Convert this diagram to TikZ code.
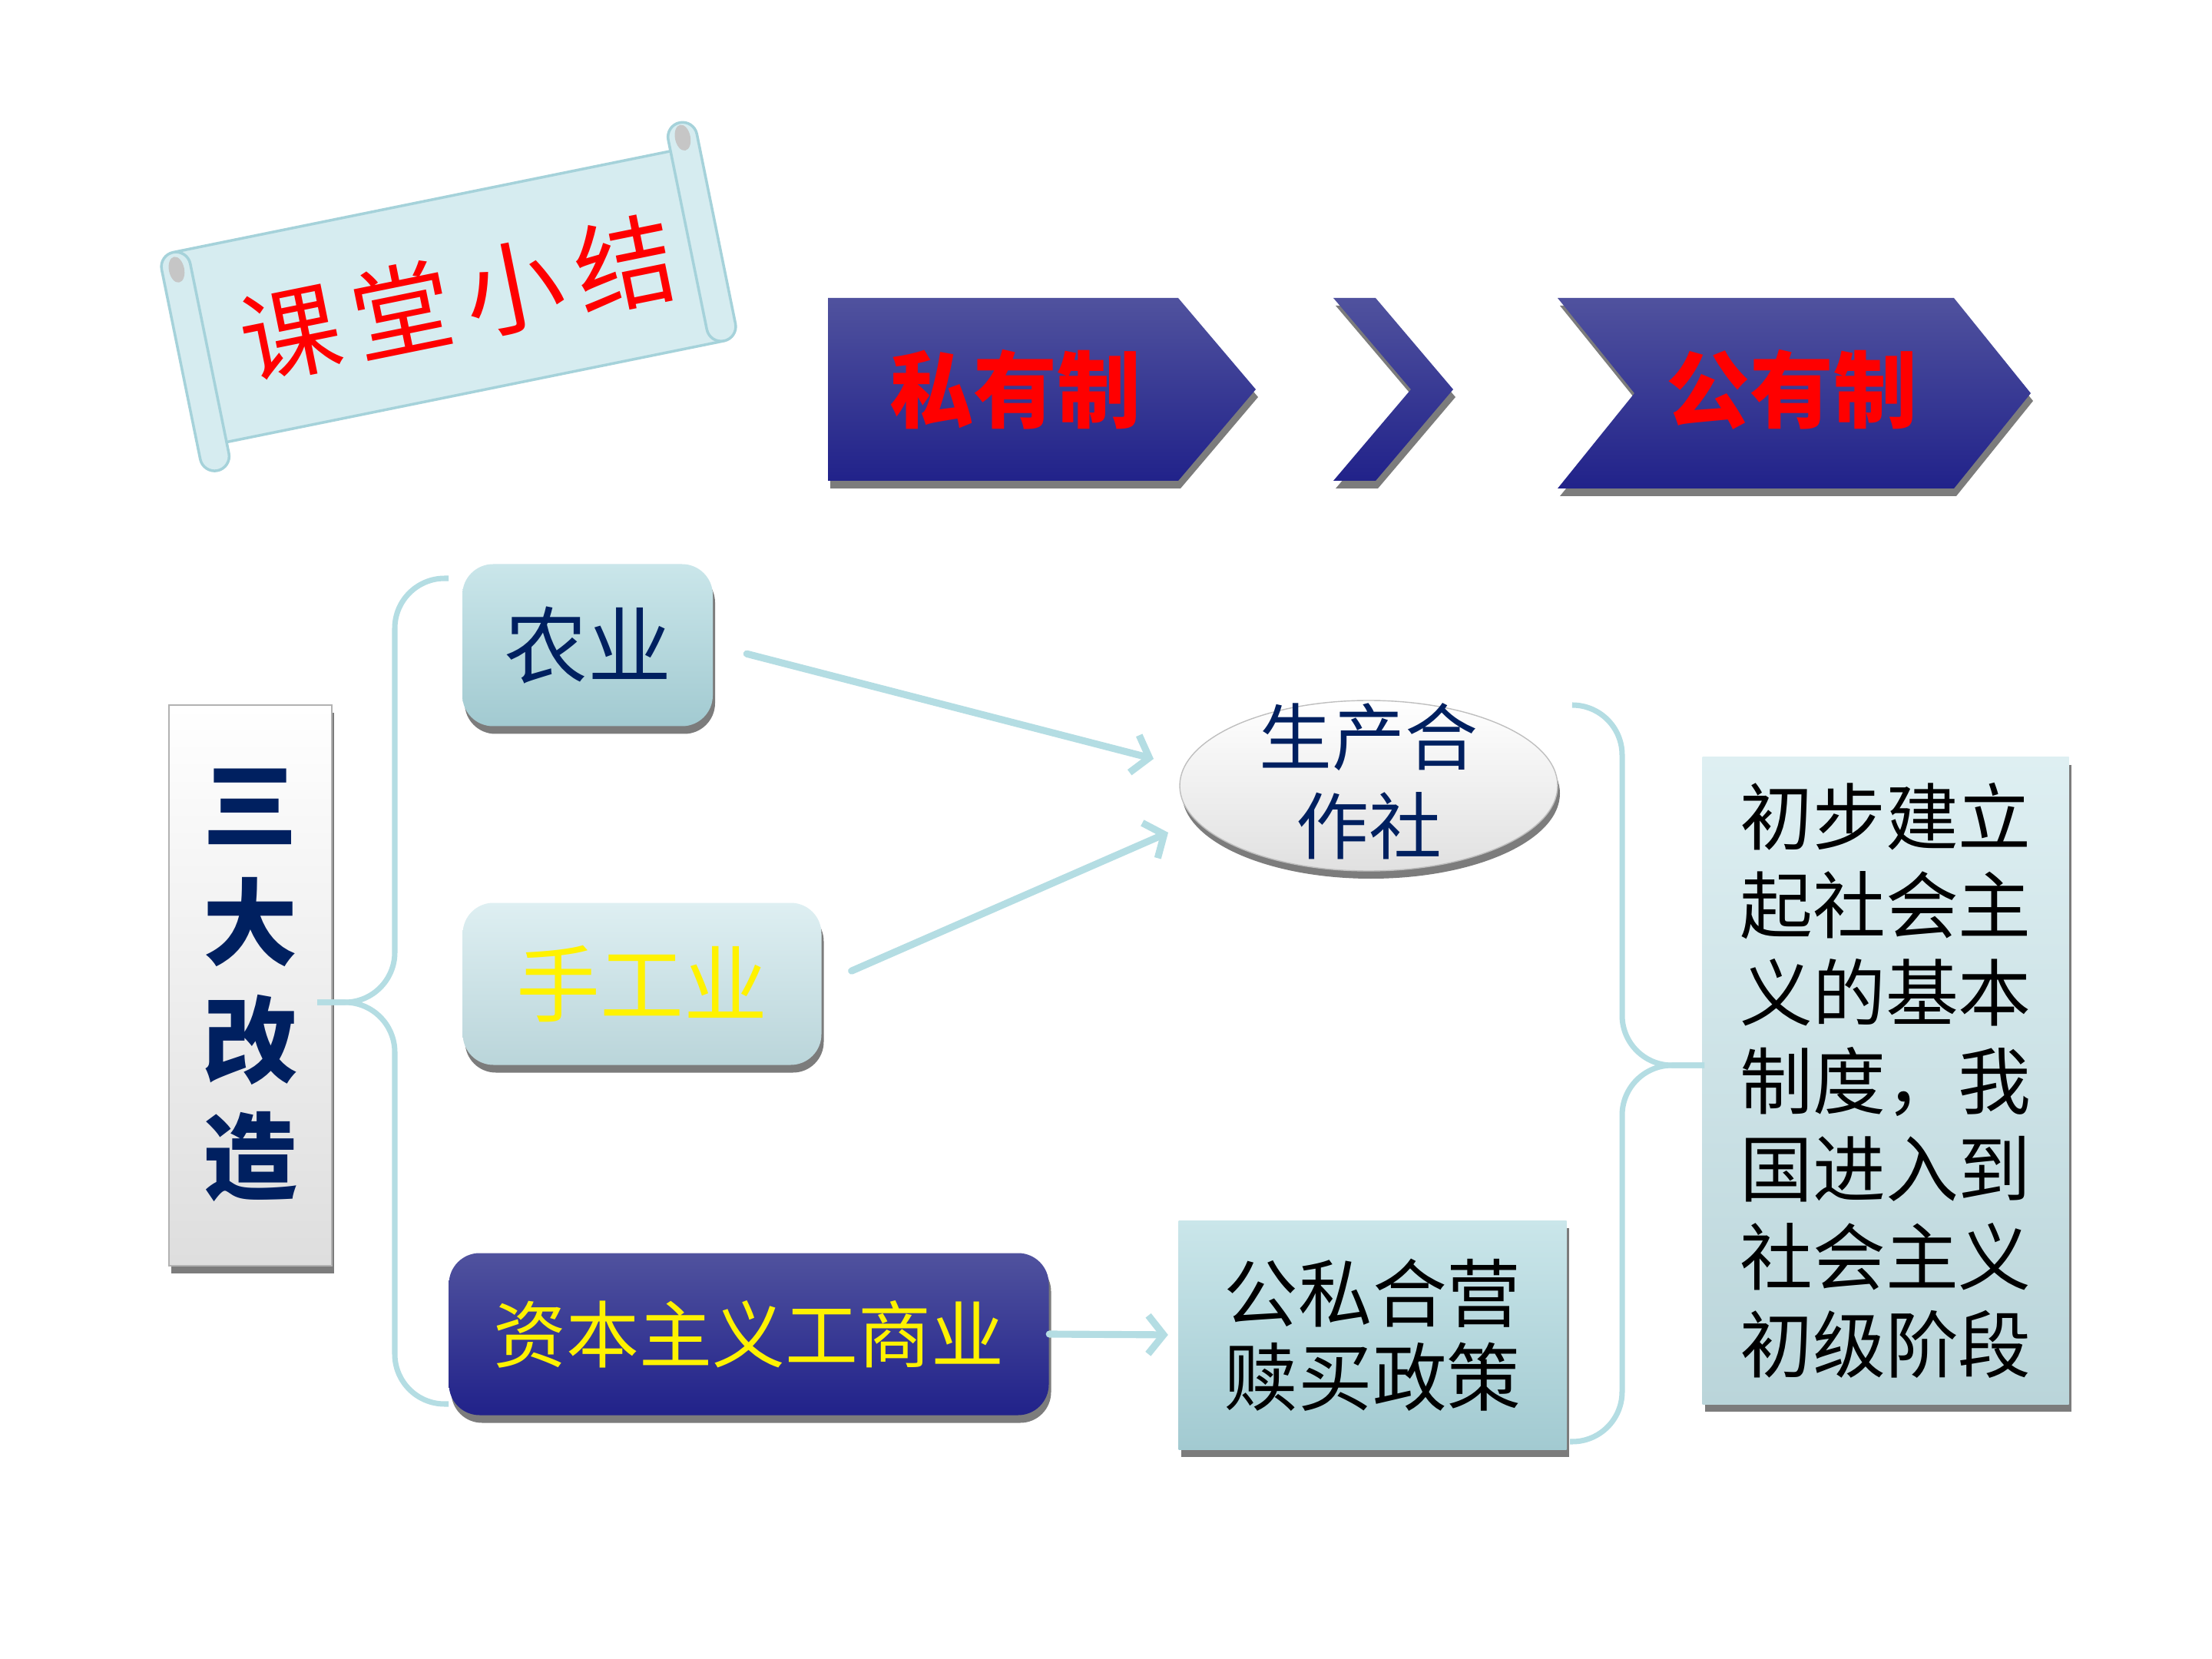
\documentclass[tikz,border=0pt]{standalone}
\usepackage{xcolor}
\usepackage{fontspec}
\setmainfont{Noto Sans CJK SC}
\usepackage{tikz}
\usetikzlibrary{shapes.geometric, arrows.meta, shadows}
\definecolor{navytop}{RGB}{80, 82, 158}
\definecolor{navybot}{RGB}{33, 34, 138}
\definecolor{inkblue}{RGB}{0, 32, 96}
\definecolor{aqualine}{RGB}{180, 221, 227}
\definecolor{aquatop}{RGB}{202, 230, 234}
\definecolor{aquabot}{RGB}{162, 202, 209}
\definecolor{paletop}{RGB}{222, 239, 242}
\definecolor{palebot}{RGB}{186, 213, 218}
\definecolor{scrollfill}{RGB}{214, 236, 240}
\definecolor{scrollline}{RGB}{165, 210, 218}

\begin{document}
\begin{tikzpicture}[
    shade drop/.style={drop shadow={shadow xshift=0.03cm, shadow yshift=-0.1cm, opacity=0.6, fill=black!85}},
    card/.style={rounded corners=0.4cm, minimum height=2.11cm, inner sep=0pt, shade drop},
    flow/.style={aqualine, line width=2.6pt, line cap=round, -{Straight Barb[length=0.2cm, width=0.5cm]}},
    brace/.style={aqualine, line width=2pt, rounded corners=0.65cm}
]
    % Canvas
    \useasboundingbox (0,0) rectangle (28.8,-21.6);
    \fill[white] (0,0) rectangle (28.8,-21.6);

    % Scroll with title
    \begin{scope}[shift={(5.85,-3.86)}, rotate=11.5]
        \filldraw[fill=scrollfill, draw=scrollline, line width=1pt, rounded corners=0.2cm] (-3.57,-1.28) rectangle (3.55,1.28);
        \filldraw[fill=scrollfill, draw=scrollline, line width=1pt, rounded corners=0.19cm] (-3.6,-1.62) rectangle (-3.22,1.28);
        \filldraw[fill=scrollfill, draw=scrollline, line width=1pt, rounded corners=0.19cm] (3.2,-1.28) rectangle (3.58,1.62);
        \fill[gray!45] (-3.41,1.05) ellipse (0.1 and 0.17);
        \fill[gray!45] (3.39,1.42) ellipse (0.1 and 0.17);
        \node[transform shape, text=red, font=\fontsize{37pt}{37pt}\selectfont] (title) at (0.1,-0.05)
            {课\hspace{0.14em}堂\hspace{0.14em}小\hspace{0.14em}结};
    \end{scope}

    % Chevrons
    \path[shade drop, top color=navytop, bottom color=navybot]
        (10.78,-3.88) -- (15.34,-3.88) -- (16.35,-5.07) -- (15.34,-6.26) -- (10.78,-6.26) -- cycle;
    \path[shade drop, top color=navytop, bottom color=navybot]
        (17.36,-3.88) -- (17.91,-3.88) -- (18.92,-5.07) -- (17.91,-6.26) -- (17.36,-6.26) -- (18.37,-5.07) -- cycle;
    \path[shade drop, top color=navytop, bottom color=navybot]
        (20.28,-3.88) -- (25.44,-3.88) -- (26.44,-5.12) -- (25.44,-6.36) -- (20.28,-6.36) -- (21.28,-5.12) -- cycle;
    \node[text=red, font=\bfseries\fontsize{31pt}{31pt}\selectfont] (private) at (13.22,-5.07) {私有制};
    \node[text=red, font=\bfseries\fontsize{31pt}{31pt}\selectfont] (public) at (23.33,-5.07) {公有制};

    % Left column
    \node[shade drop, draw=black!30, top color=white, bottom color=black!13, minimum width=2.12cm, minimum height=7.3cm,
        inner sep=0pt, text=inkblue, align=center, font=\bfseries\fontsize{35pt}{43.5pt}\selectfont]
        (gaizao) at (3.26,-12.83) {三\\大\\改\\造};

    % Three sectors
    \node[card, top color=aquatop, bottom color=aquabot, minimum width=3.26cm, text=inkblue,
        font=\fontsize{31pt}{31pt}\selectfont] (nongye) at (7.65,-8.40) {农业};
    \node[card, top color=paletop, bottom color=palebot, minimum width=4.67cm, text=yellow,
        font=\fontsize{31pt}{31pt}\selectfont] (shougong) at (8.36,-12.81) {手工业};
    \node[card, top color=navytop, bottom color=navybot, minimum width=7.81cm, text=yellow,
        font=\fontsize{27pt}{27pt}\selectfont] (ziben) at (9.75,-17.37) {资本主义工商业};

    % Results
    \node[ellipse, shade drop, draw=black!25, top color=white, bottom color=black!12, minimum width=4.92cm,
        minimum height=2.22cm, inner sep=0pt] (coop) at (17.82,-10.23) {};
    \node[text=inkblue, align=center, font=\fontsize{27pt}{33pt}\selectfont] (cooptext) at (17.82,-10.17) {生产合\\作社};
    \node[shade drop, top color=aquatop, bottom color=aquabot, minimum width=5.05cm, minimum height=2.98cm,
        inner sep=0pt, align=center, font=\fontsize{27.5pt}{31pt}\selectfont] (gongsi) at (17.87,-17.38) {公私合营\\赎买政策};
    \node[shade drop, top color=paletop, bottom color=palebot, minimum width=4.77cm, minimum height=8.42cm,
        inner sep=0pt, align=center, font=\fontsize{27pt}{32.6pt}\selectfont] (result) at (24.55,-14.07)
        {初步建立\\起社会主\\义的基本\\制度，我\\国进入到\\社会主义\\初级阶段};

    % Arrows
    \coordinate (toA) at (15.02,-9.88);
    \coordinate (toB) at (15.21,-10.84);
    \draw[flow, shorten <=0.45cm] (nongye.east) -- (toA);
    \draw[flow, shorten <=0.42cm] (shougong.east) -- (toB);
    \draw[flow, shorten >=0.13cm] (ziben.east) -- (gongsi.west);

    % Braces
    \coordinate (lb top) at (5.84,-7.53);
    \coordinate (lb tip) at (4.13,-13.05);
    \coordinate (lb bot) at (5.84,-18.28);
    \draw[brace] (lb top) -| (5.14,-13.05) -- (lb tip);
    \draw[brace] (lb tip) -- (5.14,-13.05) |- (lb bot);
    \coordinate (rb top) at (20.48,-9.18);
    \coordinate (rb tip) at (22.19,-13.87);
    \coordinate (rb bot) at (20.44,-18.77);
    \draw[brace] (rb top) -| (21.12,-13.87) -- (rb tip);
    \draw[brace] (rb tip) -- (21.12,-13.87) |- (rb bot);
\end{tikzpicture}
\end{document}
